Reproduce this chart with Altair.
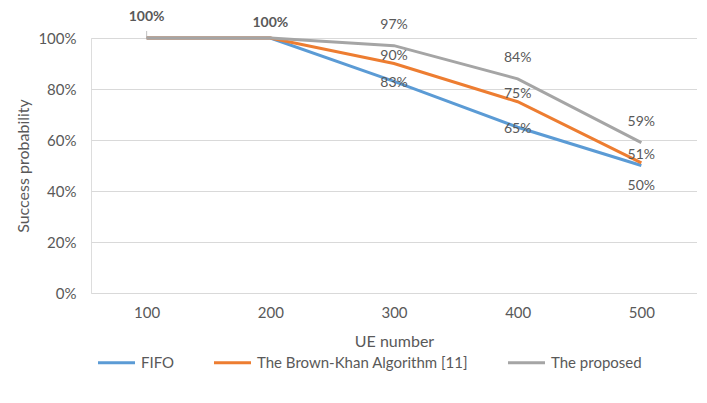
import altair as alt
import pandas as pd

ue = ["100", "200", "300", "400", "500"]
series_names = ["FIFO", "The Brown-Khan Algorithm [11]", "The proposed"]
fifo = [1.00, 1.00, 0.83, 0.65, 0.50]
brown = [1.00, 1.00, 0.90, 0.75, 0.51]
proposed = [1.00, 1.00, 0.97, 0.84, 0.59]
colors = ["#5B9BD5", "#ED7D31", "#A5A5A5"]

rows = []
for name, vals in zip(series_names, [fifo, brown, proposed]):
    for u, v in zip(ue, vals):
        rows.append({"ue": u, "series": name, "value": v})
df = pd.DataFrame(rows)

FONT = "Lato"
TXT = "#595959"

x_enc = alt.X("ue:O", sort=ue, title="UE number",
              scale=alt.Scale(type="point", padding=0.45),
              axis=alt.Axis(labelAngle=0, grid=False, domain=False, ticks=False,
                            labelPadding=12, titlePadding=13, labelFontSize=15,
                            titleFontSize=16))
y_enc = alt.Y("value:Q", title="Success probability",
              scale=alt.Scale(domain=[0, 1]),
              axis=alt.Axis(format=".0%", values=[0, 0.2, 0.4, 0.6, 0.8, 1.0],
                            domain=False, ticks=False, labelPadding=15,
                            titlePadding=6, labelFontSize=15, titleFontSize=16,
                            gridColor="#D9D9D9", gridWidth=1.2))

color_enc = alt.Color("series:N", sort=series_names,
                      scale=alt.Scale(domain=series_names, range=colors),
                      legend=alt.Legend(title=None, orient="none", direction="horizontal",
                                        legendX=5, legendY=304,
                                        symbolType="stroke", symbolSize=1370,
                                        symbolStrokeWidth=3, labelFontSize=15,
                                        labelLimit=400, columnPadding=32,
                                        labelOffset=4))

base = alt.Chart(df)

lines = base.mark_line(strokeWidth=3).encode(x=x_enc, y=y_enc, color=color_enc,
                                                order=alt.Order("series:N"))

leader = base.transform_filter(
    "datum.series == 'The proposed' && datum.ue == '100'"
).mark_tick(orient="vertical", size=7, thickness=1, yOffset=-3.5,
            color="#A5A5A5").encode(x=alt.X("ue:O", sort=ue), y=alt.Y("value:Q"))

def lbl(series, xs, dy, bold=False):
    cond = "datum.series == '%s' && indexof(%s, datum.ue) >= 0" % (series, str(xs))
    return base.transform_filter(cond).mark_text(
        dy=dy, fontSize=14, font=FONT, color=TXT,
        fontWeight="bold" if bold else "normal").encode(
        x=alt.X("ue:O", sort=ue), y=alt.Y("value:Q"),
        text=alt.Text("value:Q", format=".0%"))

labels = [
    lbl("The proposed", ["100"], -21, True),
    lbl("The proposed", ["200"], -15, True),
    lbl("The proposed", ["300", "400", "500"], -21),
    lbl("The Brown-Khan Algorithm [11]", ["300", "400", "500"], -8),
    lbl("FIFO", ["300", "400"], 2),
    lbl("FIFO", ["500"], 20),
]

chart = alt.layer(lines, leader, *labels).properties(
    width=606, height=255, padding={"left": 7, "top": 2, "right": 0, "bottom": 0}
).configure_view(stroke=None).configure(font=FONT).configure_axis(
    labelColor=TXT, titleColor=TXT, labelFont=FONT, titleFont=FONT,
    titleFontWeight="normal"
).configure_legend(labelColor=TXT, labelFont=FONT)

chart.save("out.html", embed_options={"renderer": "svg", "actions": False})
